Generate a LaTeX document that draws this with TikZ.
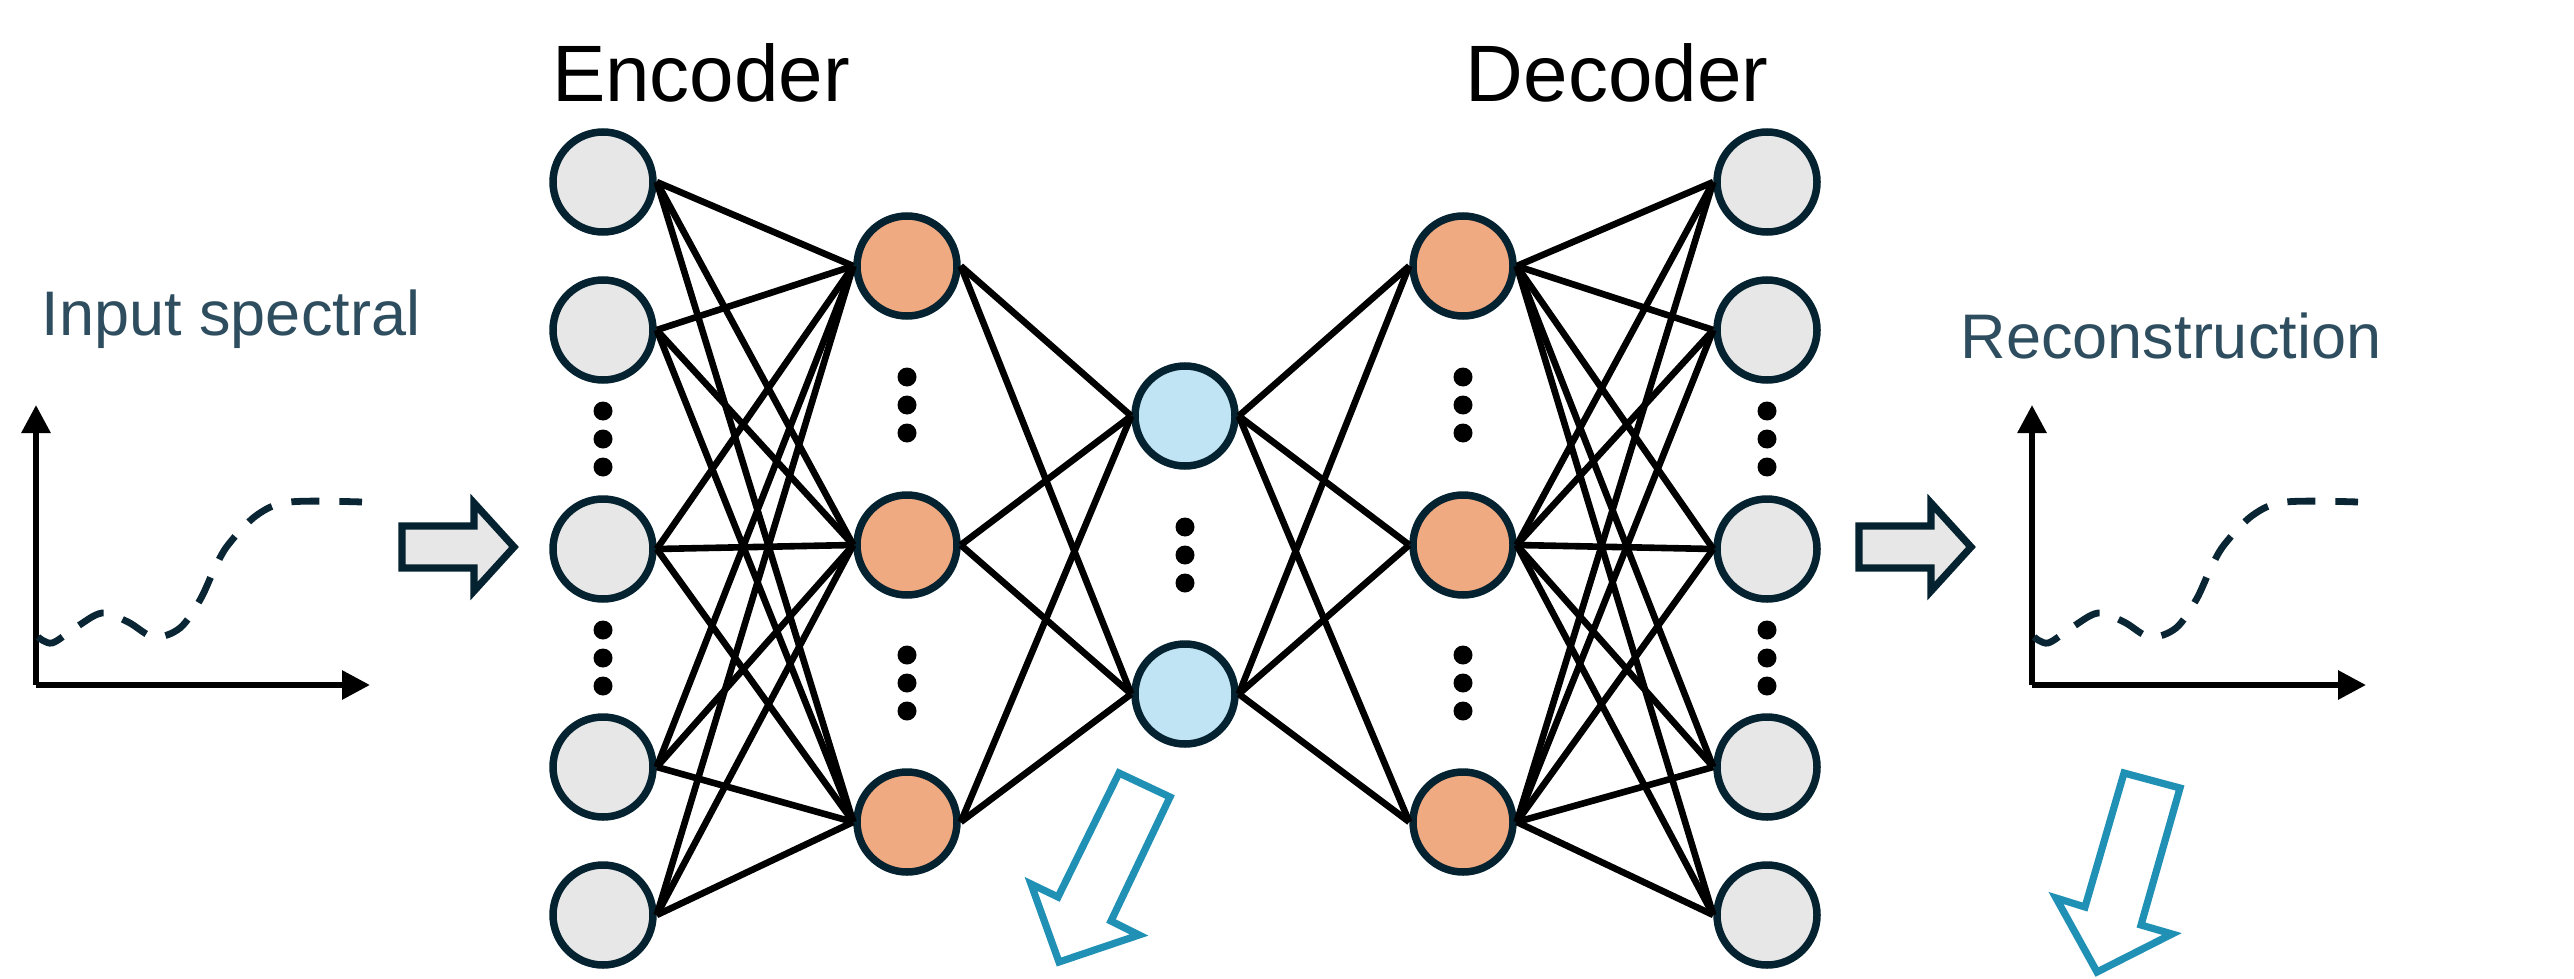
\documentclass[tikz,border=0pt]{standalone}
\usepackage{fontspec}
\setmainfont{Liberation Sans}
\usetikzlibrary{arrows.meta}
\definecolor{navy}{RGB}{4,34,47}
\definecolor{nodegray}{RGB}{231,231,231}
\definecolor{nodeorange}{RGB}{240,170,130}
\definecolor{nodeblue}{RGB}{193,228,244}
\definecolor{labelslate}{RGB}{46,78,96}
\definecolor{arrowblue}{RGB}{33,144,181}
\definecolor{curvenavy}{RGB}{10,38,52}
\begin{document}
\begin{tikzpicture}[x=0.5pt,y=-0.5pt,
  neuron/.style={circle,draw=navy,line width=3.75pt,minimum size=50pt,inner sep=0pt},
  inneuron/.style={neuron,fill=nodegray},
  hidneuron/.style={neuron,fill=nodeorange},
  latneuron/.style={neuron,fill=nodeblue},
  conn/.style={black,line width=3.3pt},
  vdot/.style={circle,fill=black,minimum size=9.5pt,inner sep=0pt},
  titlelabel/.style={font=\fontsize{40pt}{48pt}\selectfont,text=black,anchor=base,inner sep=0pt},
  sidelabel/.style={font=\fontsize{31.5pt}{38pt}\selectfont,text=labelslate,anchor=base,inner sep=0pt},
  axisline/.style={black,line width=3pt,-{Triangle[length=14pt,width=14pt]}},
  specurve/.style={draw=curvenavy,line width=3.4pt,dash pattern=on 14pt off 10pt},
  blockarrow/.style={fill=nodegray,draw=navy,line width=3.6pt,line join=miter},
  hollowarrow/.style={draw=arrowblue,line width=3.6pt,line join=miter}
]
\fill[white] (0,0) rectangle (2574,979);
\useasboundingbox (0,0) rectangle (2574,979);

% titles
\node[titlelabel] (enc) at (701,102) {Encoder};
\node[titlelabel] (dec) at (1617,102) {Decoder};
\node[sidelabel] (inlab) at (231,335) {Input spectral};
\node[sidelabel] (reclab) at (2171,358) {Reconstruction};

% input layer
\foreach \k/\y in {1/182,2/330,3/549,4/767,5/915}
  \node[inneuron] (i\k) at (603,\y) {};
% encoder hidden
\foreach \k/\y in {1/266,2/545,3/822}
  \node[hidneuron] (e\k) at (907,\y) {};
% latent
\foreach \k/\y in {1/416,2/694}
  \node[latneuron] (z\k) at (1185,\y) {};
% decoder hidden
\foreach \k/\y in {1/266,2/545,3/822}
  \node[hidneuron] (d\k) at (1463,\y) {};
% output layer
\foreach \k/\y in {1/182,2/330,3/549,4/767,5/915}
  \node[inneuron] (o\k) at (1767,\y) {};

% connections
\foreach \a in {1,...,5}
  \foreach \b in {1,2,3}
    \draw[conn] (i\a.east) -- (e\b.west);
\foreach \a in {1,2,3}
  \foreach \b in {1,2}
    \draw[conn] (e\a.east) -- (z\b.west);
\foreach \a in {1,2}
  \foreach \b in {1,2,3}
    \draw[conn] (z\a.east) -- (d\b.west);
\foreach \a in {1,2,3}
  \foreach \b in {1,...,5}
    \draw[conn] (d\a.east) -- (o\b.west);

% vertical ellipses
\foreach \x/\n in {603/ia,1767/oa}
  \foreach \y/\m in {411/1,439/2,467/3,630/4,658/5,686/6}
    \node[vdot] (\n\m) at (\x,\y) {};
\foreach \x/\n in {907/ea,1463/da}
  \foreach \y/\m in {377/1,405/2,433/3,655/4,683/5,711/6}
    \node[vdot] (\n\m) at (\x,\y) {};
\foreach \y/\m in {527/1,555/2,583/3}
  \node[vdot] (za\m) at (1185,\y) {};

% left plot
\coordinate (lo) at (36,685);
\coordinate (ly) at (36,405);
\coordinate (lx) at (370,685);
\draw[axisline] (lo) -- (ly);
\draw[axisline] (lo) -- (lx);
\draw[specurve] plot[smooth,tension=0.55] coordinates {(38,637) (52,643) (75,628) (102,613) (128,622) (154,637) (180,628) (200,600) (214,570) (228,545) (257,515) (290,502) (362,502)};

% right plot
\begin{scope}[xshift=998pt]
\coordinate (ro) at (36,685);
\coordinate (ry) at (36,405);
\coordinate (rx) at (370,685);
\draw[axisline] (ro) -- (ry);
\draw[axisline] (ro) -- (rx);
\draw[specurve] plot[smooth,tension=0.55] coordinates {(38,637) (52,643) (75,628) (102,613) (128,622) (154,637) (180,628) (200,600) (214,570) (228,545) (257,515) (290,502) (362,502)};
\end{scope}

% gray block arrows
\draw[blockarrow] (402,526) -- (474,526) -- (474,503) -- (514,547) -- (474,591) -- (474,568) -- (402,568) -- cycle;
\draw[blockarrow] (1859,526) -- (1931,526) -- (1931,503) -- (1971,547) -- (1931,591) -- (1931,568) -- (1859,568) -- cycle;

% hollow blue arrows
\draw[hollowarrow] (1119,773) -- (1170,797) -- (1111,921) -- (1139,935) -- (1059,962) -- (1031,884) -- (1058,897) -- cycle;
\draw[hollowarrow] (2124,773) -- (2180,788) -- (2141,925) -- (2172,934) -- (2097,972) -- (2056,898) -- (2085,907) -- cycle;
\end{tikzpicture}
\end{document}
